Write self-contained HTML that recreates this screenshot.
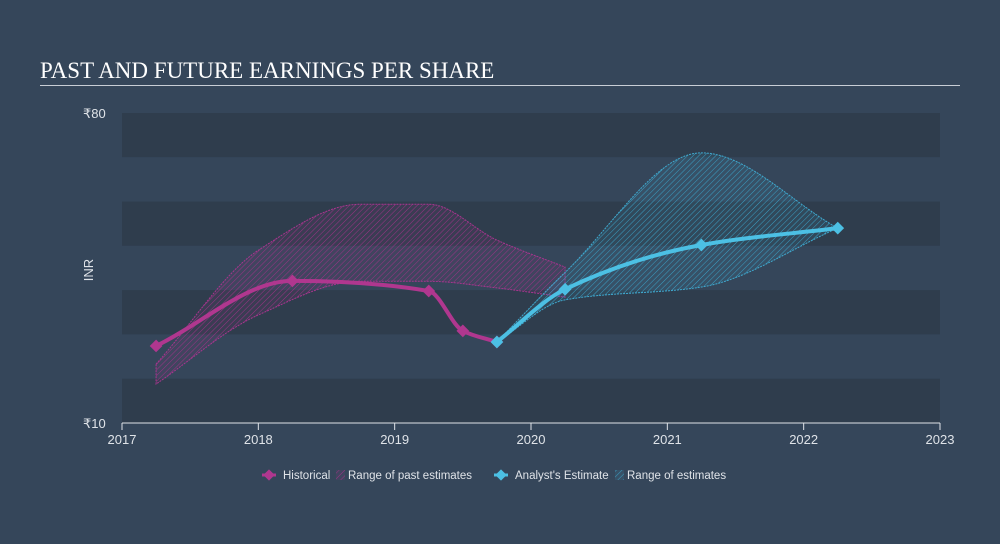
<!DOCTYPE html>
<html><head><meta charset="utf-8"><style>
body{margin:0;background:#35465a;font-family:"Liberation Sans",sans-serif;}
svg{display:block}
</style></head><body>
<svg width="1000" height="544">
<defs>
<pattern id="hp" width="4" height="4" patternUnits="userSpaceOnUse" patternTransform="rotate(45)"><rect width="4" height="4" fill="rgba(170,50,140,0.10)"/><line x1="0" y1="0" x2="0" y2="4" stroke="#9c3386" stroke-width="1"/></pattern>
<pattern id="hf" width="4" height="4" patternUnits="userSpaceOnUse" patternTransform="rotate(45)"><rect width="4" height="4" fill="rgba(70,180,220,0.10)"/><line x1="0" y1="0" x2="0" y2="4" stroke="#3a9fc4" stroke-width="1"/></pattern>
</defs>
<rect width="1000" height="544" fill="#35465a"/>
<text x="40" y="78" fill="#ffffff" font-size="23" font-family="Liberation Serif, serif">PAST AND FUTURE EARNINGS PER SHARE</text>
<rect x="40" y="85" width="920" height="1" fill="#c8ced6"/>
<g id="bands"></g>
<g id="marks"></g>
<g id="axes"></g>
<text x="93" y="270" fill="#dfe3e8" font-size="13" transform="rotate(-90 93 270)" text-anchor="middle">INR</text>
<g>
<g><line x1="262" y1="475" x2="276" y2="475" stroke="#b0378f" stroke-width="3"/><rect x="265" y="471" width="8" height="8" fill="#b0378f" transform="rotate(45 269 475)"/><text x="283" y="479" fill="#dfe3e8" font-size="11.5">Historical</text></g>
<g><rect x="336" y="470" width="9" height="10" fill="url(#hp)"/><text x="348" y="479" fill="#dfe3e8" font-size="11.5">Range of past estimates</text></g>
<g><line x1="494" y1="475" x2="508" y2="475" stroke="#4cc0e4" stroke-width="3"/><rect x="497" y="471" width="8" height="8" fill="#4cc0e4" transform="rotate(45 501 475)"/><text x="515" y="479" fill="#dfe3e8" font-size="11.5">Analyst's Estimate</text></g>
<g><rect x="615" y="470" width="9" height="10" fill="url(#hf)"/><text x="627" y="479" fill="#dfe3e8" font-size="11.5">Range of estimates</text></g>
</g>
</svg>
<script>
const xTicks=[2017,2018,2019,2020,2021,2022,2023];
const yTickLabels=["₹10","₹80"];
const yTickValues=[10,80];
const histX=[2017.25,2018.25,2019.25,2019.5,2019.75];
const histY=[27.4,42.1,39.8,30.8,28.3];
const estX=[2019.75,2020.25,2021.25,2022.25];
const estY=[28.3,40.2,50.2,54];
const pastRangeX=[2017.25,2018,2018.75,2019.25,2019.75,2020.25];
const pastHigh=[23.3,49,59.4,59.4,51.3,45.2];
const pastLow=[18.8,34.4,42,42,40.5,38.4];
const futRangeX=[2019.75,2020.25,2021.25,2022.25];
const futHigh=[28.3,44,71,54];
const futLow=[28.3,37.8,40.7,54];
const NS="http://www.w3.org/2000/svg";
const X=v=>122+(v-2017)*(940-122)/6;
const Y=v=>423-(v-10)*(423-113)/70;
function mk(tag,attrs,parent){const e=document.createElementNS(NS,tag);for(const k in attrs)e.setAttribute(k,attrs[k]);parent.appendChild(e);return e;}
function spline(pts,move){
  let p=pts.slice();let rev=false;if(p.length>1&&p[0][0]>p[p.length-1][0]){p=p.slice().reverse();rev=true;}
  const n=p.length,dx=[],m=[],t=[];
  for(let i=0;i<n-1;i++){dx.push(p[i+1][0]-p[i][0]);m.push((p[i+1][1]-p[i][1])/dx[i]);}
  t[0]=m[0];t[n-1]=m[n-2];
  for(let i=1;i<n-1;i++){t[i]=(m[i-1]*m[i]<=0)?0:3*(dx[i-1]+dx[i])/((2*dx[i]+dx[i-1])/m[i-1]+(dx[i]+2*dx[i-1])/m[i]);}
  let segs=[];
  for(let i=0;i<n-1;i++){const h=dx[i]/3;segs.push([p[i],[p[i][0]+h,p[i][1]+t[i]*h],[p[i+1][0]-h,p[i+1][1]-t[i+1]*h],p[i+1]]);}
  if(rev){segs=segs.reverse().map(s=>[s[3],s[2],s[1],s[0]]);}
  const s0=segs[0][0];let d=(move?'M':'L')+s0[0]+','+s0[1];
  segs.forEach(s=>{d+=` C${s[1][0]},${s[1][1]} ${s[2][0]},${s[2][1]} ${s[3][0]},${s[3][1]}`;});
  return d;}
const bands=document.getElementById('bands');
for(let i=0;i<7;i++){const r=mk('rect',{x:122,y:Y(80-i*10),width:818,height:Y(70)-Y(80),fill:i%2?'#35465a':'#2f3d4d'},bands);

}
const marks=document.getElementById('marks');
function area(xs,hi,lo,fill,stroke,name){const up=xs.map((x,i)=>[X(x),Y(hi[i])]);const dn=xs.map((x,i)=>[X(x),Y(lo[i])]).reverse();
const p=mk('path',{d:spline(up,true)+' '+spline(dn,false)+' Z',fill:fill,stroke:stroke,'stroke-width':1,'stroke-dasharray':'2,1'},marks);

}
area(pastRangeX,pastHigh,pastLow,'url(#hp)','#a8358f','past-estimate-range');
area(futRangeX,futHigh,futLow,'url(#hf)','#3fa9cf','future-estimate-range');
function line(xs,ys,color,name){const pts=xs.map((x,i)=>[X(x),Y(ys[i])]);
const p=mk('path',{d:spline(pts,true),fill:'none',stroke:color,'stroke-width':4,'stroke-linecap':'round'},marks);


pts.forEach(q=>{const m=mk('rect',{x:q[0]-4.5,y:q[1]-4.5,width:9,height:9,fill:color,transform:`rotate(45 ${q[0]} ${q[1]})`},marks);

});}
line(histX,histY,'#b0378f','historical');
line(estX,estY,'#4cc0e4','estimate');
const axes=document.getElementById('axes');
const base=mk('line',{x1:122,y1:423,x2:940,y2:423,stroke:'#dfe3e8','stroke-width':1},axes);


xTicks.forEach(t=>{const tk=mk('line',{x1:X(t),y1:423,x2:X(t),y2:430,stroke:'#dfe3e8'},axes);


const tx=mk('text',{x:X(t),y:444,fill:'#dfe3e8','font-size':13,'text-anchor':'middle'},axes);tx.textContent=t;

});
yTickValues.forEach((v,i)=>{const tx=mk('text',{x:83,y:Y(v)+5,fill:'#dfe3e8','font-size':13},axes);tx.textContent=yTickLabels[i];

});
</script>
</body></html>
